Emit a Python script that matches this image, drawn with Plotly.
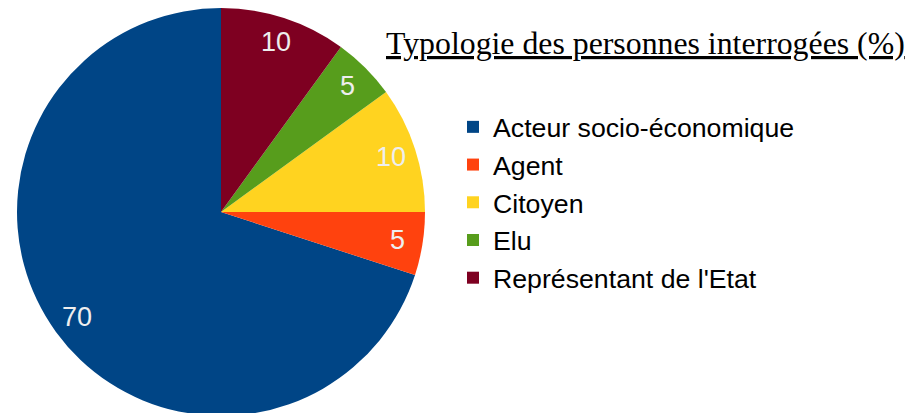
import math
import plotly.graph_objects as go

categories = ["Acteur socio-économique", "Agent", "Citoyen", "Elu", "Représentant de l'Etat"]
values = [70, 5, 10, 5, 10]
colors = ["#004586", "#ff420e", "#ffd320", "#579d1c", "#7e0021"]
title_text = "Typologie des personnes interrogées (%)"

# the page body has an 8px default margin, so work in reference coords minus OFF
OFF = 8
W, H = 923 - OFF, 413
MT, MB, ML, MR = 0, 5, 0, 0
plot_w, plot_h = W - ML - MR, H - MT - MB
pie_cx_px = 221 - OFF
dom_x1 = 2 * pie_cx_px / plot_w

total = sum(values)
# counterclockwise order with the first slice ending at 12 o'clock + rotation
rotation = 360 * (total - values[0]) / total

fig = go.Figure(go.Pie(
    labels=categories,
    values=values,
    marker=dict(colors=colors, line=dict(width=0)),
    sort=False,
    direction="counterclockwise",
    rotation=rotation,
    textinfo="none",
    hoverinfo="label+value",
    domain=dict(x=[0, dom_x1], y=[0, 1]),
))

# value labels placed at mid-angle of each slice (counterclockwise from 12 o'clock)
radius_px = min(dom_x1 * plot_w, plot_h) / 2
cum = 0
annotations = []
for v in values:
    mid = (cum + v / 2) / total
    cum += v
    ang = math.radians(90 + 360 * mid)
    rr = 0.875 * radius_px
    dx = rr * math.cos(ang)
    dy = rr * math.sin(ang)
    annotations.append(dict(
        x=(pie_cx_px + dx) / plot_w, y=0.5 + dy / plot_h,
        xref="paper", yref="paper", text=str(v), showarrow=False,
        font=dict(family="Liberation Sans, Arial, sans-serif", size=27, color="#eeeeee"),
        xanchor="center", yanchor="middle",
    ))

annotations.append(dict(
    x=(645 - OFF) / plot_w, y=1 - (43 - OFF - MT) / plot_h, xref="paper", yref="paper",
    text="<u>" + title_text + "</u>", showarrow=False,
    font=dict(family="Liberation Serif, Times New Roman, serif", size=31.8, color="#000000"),
    xanchor="center", yanchor="middle",
))

fig.update_layout(
    width=W, height=H,
    margin=dict(l=ML, r=MR, t=MT, b=MB, pad=0),
    paper_bgcolor="white", plot_bgcolor="white",
    showlegend=True,
    legend=dict(
        x=(493 - OFF - 40) / plot_w, xanchor="left",
        y=1 - (202.5 - OFF - MT) / plot_h, yanchor="middle",
        font=dict(family="Liberation Sans, Arial, sans-serif", size=26.7, color="#000000"),
        bgcolor="rgba(0,0,0,0)", traceorder="normal",
    ),
    annotations=annotations,
)

fig.write_html("out.html")
